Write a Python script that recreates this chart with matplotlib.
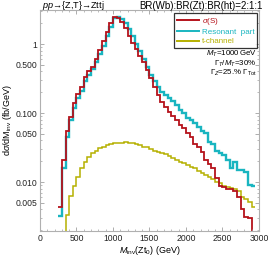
import numpy as np
import matplotlib
matplotlib.use("Agg")
import matplotlib.pyplot as plt
from matplotlib.ticker import FixedLocator, FixedFormatter, MultipleLocator, LogLocator, NullFormatter

plt.rcParams['font.family'] = ['Liberation Sans', 'DejaVu Sans']
plt.rcParams['mathtext.fontset'] = 'custom'
plt.rcParams['mathtext.rm'] = 'Liberation Sans'
plt.rcParams['mathtext.it'] = 'Liberation Sans:italic'

# bin edges (GeV), 50 GeV bins
edges = np.arange(250, 2951, 50)

# sigma(S)
sig_s = [0.0044, 0.021, 0.054, 0.088, 0.14, 0.19, 0.24, 0.33, 0.40, 0.47,
         0.60, 0.82, 1.10, 1.50, 2.00, 2.45, 2.35, 2.05, 1.70, 1.32,
         1.02, 0.84, 0.68, 0.55, 0.42, 0.32, 0.24, 0.18, 0.145, 0.122,
         0.105, 0.090, 0.079, 0.067, 0.060, 0.051, 0.0445, 0.036, 0.032, 0.0275,
         0.021, 0.018, 0.0158, 0.0113, 0.0088, 0.0084, 0.0080, 0.0078, 0.0075, 0.0061,
         0.0041, 0.0031, 0.0030, 0.0001]

# resonant part
resonant = [0.0032, 0.016, 0.045, 0.080, 0.12, 0.165, 0.21, 0.29, 0.36, 0.44,
            0.55, 0.72, 0.95, 1.30, 1.75, 2.40, 2.50, 2.30, 2.00, 1.65,
            1.30, 1.00, 0.78, 0.60, 0.46, 0.36, 0.29, 0.235, 0.20, 0.18,
            0.165, 0.148, 0.13, 0.11, 0.099, 0.084, 0.079, 0.072, 0.063, 0.054,
            0.051, 0.038, 0.036, 0.028, 0.026, 0.0245, 0.021, 0.016, 0.0197, 0.015,
            0.015, 0.014, 0.0091, 0.0088]

# t-channel
tchan = [0.0001, 0.0001, 0.0033, 0.0063, 0.0088, 0.0117, 0.0158, 0.0197, 0.0228, 0.026,
         0.0283, 0.0307, 0.0324, 0.0343, 0.0355, 0.0363, 0.037, 0.0372, 0.0378, 0.0372,
         0.0363, 0.0356, 0.0344, 0.0325, 0.0318, 0.0301, 0.0284, 0.0275, 0.026, 0.0255,
         0.0238, 0.022, 0.0208, 0.0197, 0.0186, 0.0174, 0.0167, 0.0158, 0.0146, 0.0136,
         0.0126, 0.0119, 0.0109, 0.0101, 0.0096, 0.0088, 0.0084, 0.0081, 0.0078, 0.0075,
         0.0061, 0.0056, 0.0052, 0.0043]

ytick_vals = [0.005, 0.01, 0.05, 0.1, 0.5, 1]
ytick_labels = ["0.005", "0.010", "0.050", "0.100", "0.500", "1"]

red = "#b5121b"
teal = "#19b5c0"
olive = "#b5b000"

fig = plt.figure(figsize=(2.70, 2.59), dpi=100)
ax = fig.add_axes([0.148, 0.108, 0.811, 0.853])

ax.stairs(resonant, edges, baseline=None, color=teal, lw=1.7, label="Resonant  part")
ax.stairs(tchan, edges, baseline=None, color=olive, lw=1.1, label="t-channel")
ax.stairs(sig_s, edges, baseline=None, color=red, lw=1.3, label=r"$\sigma$(S)")

ax.set_yscale("log")
ax.set_xlim(0, 3000)
ax.set_ylim(0.00195, 3.1)

ax.yaxis.set_major_locator(FixedLocator(ytick_vals))
ax.yaxis.set_major_formatter(FixedFormatter(ytick_labels))
ax.yaxis.set_minor_locator(LogLocator(base=10, subs=np.arange(2, 10)))
ax.yaxis.set_minor_formatter(NullFormatter())
ax.xaxis.set_major_locator(MultipleLocator(500))
ax.xaxis.set_minor_locator(MultipleLocator(100))

for s in ax.spines.values():
    s.set_color("#b0b0b0")
    s.set_linewidth(0.8)
ax.tick_params(which="both", direction="in", top=True, right=True, color="#a0a0a0",
               labelsize=6.2, pad=2, labelcolor="#222222")
ax.tick_params(which="major", length=3, width=0.6)
ax.tick_params(which="minor", length=1.5, width=0.5)

ax.set_xlabel(r"$M_{\rm inv}$(Zt$_0$) (GeV)", fontsize=6.5, labelpad=1)
ax.set_ylabel(r"d$\sigma$/dM$_{\rm inv}$ (fb/GeV)", fontsize=6.5, labelpad=1)

handles, labels = ax.get_legend_handles_labels()
order = [2, 0, 1]
leg = ax.legend([handles[i] for i in order], [labels[i] for i in order],
                loc="upper right", bbox_to_anchor=(257 / 270, 1 - 13 / 259),
                bbox_transform=fig.transFigure, borderaxespad=0,
                fontsize=5.8, frameon=True,
                fancybox=False, edgecolor="black", handlelength=2.7,
                labelspacing=0.2, borderpad=0.35, handletextpad=0.35,
                labelcolor="linecolor")
leg.get_frame().set_linewidth(0.9)
for ln in leg.get_lines():
    ln.set_linewidth(1.4)

fig.text(42 / 270, 1 - 6 / 259, r"$pp$→{Z,T}→Zttj",
         fontsize=6.6, va="center", ha="left")
fig.text(263 / 270, 1 - 6 / 259, "BR(Wb):BR(Zt):BR(ht)=2:1:1",
         fontsize=7.0, va="center", ha="right")

ax.text(0.99, 0.80, r"$M_T$=1000$\,$GeV", transform=ax.transAxes,
        ha="right", va="center", fontsize=5.7)
ax.text(0.99, 0.757, r"$\Gamma_T$/$M_T$=30%", transform=ax.transAxes,
        ha="right", va="center", fontsize=5.7)
ax.text(0.99, 0.714, r"$\Gamma_Z$=25.% $\Gamma_{\rm Tot}$", transform=ax.transAxes,
        ha="right", va="center", fontsize=5.7)

fig.savefig("out.png", dpi=100)
